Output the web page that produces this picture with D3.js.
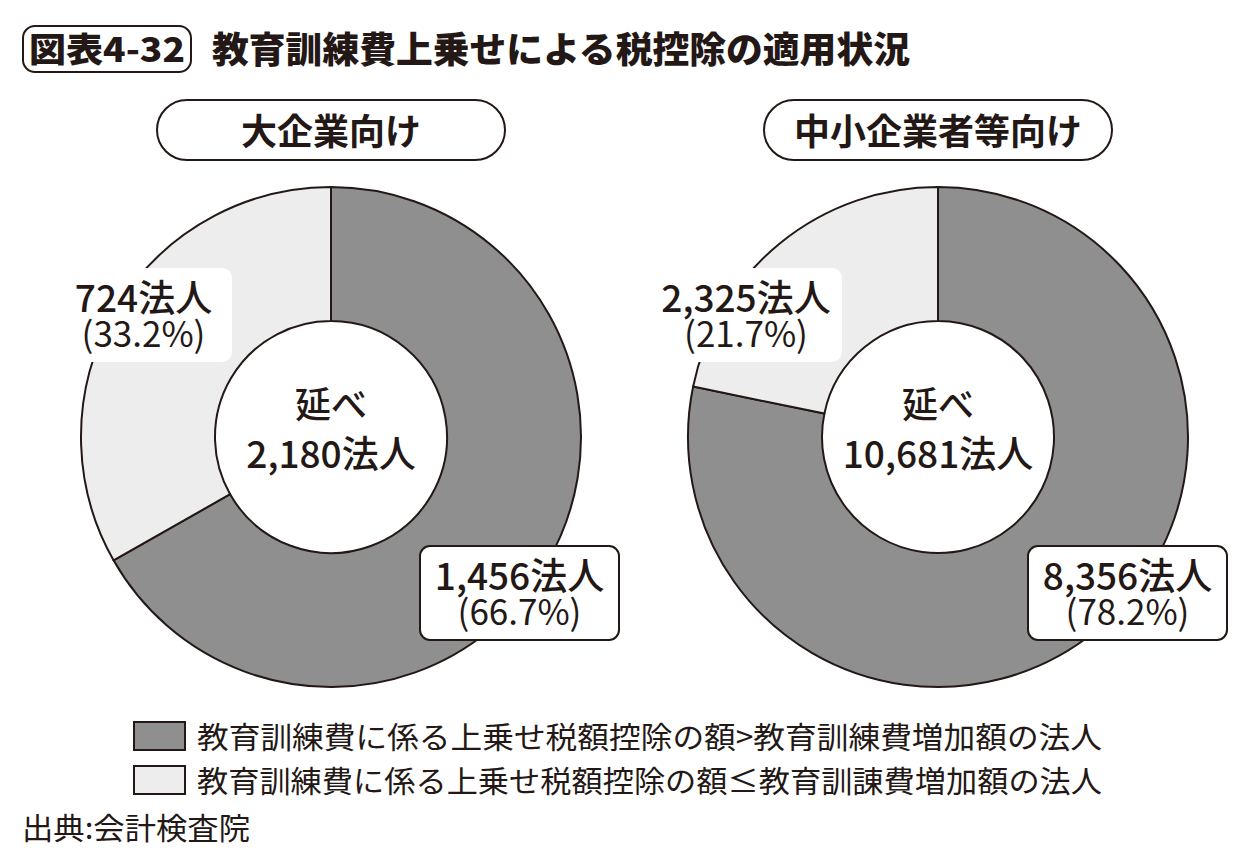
<!DOCTYPE html>
<html><head><meta charset="utf-8">
<script src="https://cdn.jsdelivr.net/npm/d3@7"></script>
<style>
html,body{margin:0;padding:0;background:#fff;}
text{font-family:"Noto Sans CJK JP","Noto Sans",sans-serif;fill:#231815;}
</style></head>
<body>
<svg id="chart" width="1248" height="866"></svg>
<script>
const chartTitleTag = "図表4-32";
const chartTitle = "教育訓練費上乗せによる税控除の適用状況";
const panelTitles = ["大企業向け", "中小企業者等向け"];
const totals = ["2,180", "10,681"];
const seriesNames = [
  "教育訓練費に係る上乗せ税額控除の額>教育訓練費増加額の法人",
  "教育訓練費に係る上乗せ税額控除の額≤教育訓諌費増加額の法人"
];
const countsLarge = [1456, 724];
const countsSmall = [8356, 2325];
const pctLarge = ["66.7%", "33.2%"];
const pctSmall = ["78.2%", "21.7%"];
const source = "出典:会計検査院";
const colors = ["#8f8f8f", "#ededed"];

const svg = d3.select("#chart");
const fmt = d3.format(",");

// Title
svg.append("rect").attr("x",23).attr("y",26).attr("width",168).attr("height",46)
  .attr("rx",12).attr("fill","#fff").attr("stroke","#231815").attr("stroke-width",2);
svg.append("text").attr("x",107).attr("y",62).attr("text-anchor","middle")
  .attr("font-size",34).attr("font-weight","900")
  .attr("textLength",156).attr("lengthAdjust","spacingAndGlyphs").text(chartTitleTag);
svg.append("text").attr("x",212).attr("y",63)
  .attr("font-size",36).attr("font-weight","900")
  .attr("textLength",698).attr("lengthAdjust","spacingAndGlyphs").text(chartTitle);

const panels = [
  {cx:331, counts:countsLarge, pcts:pctLarge, total:totals[0], title:panelTitles[0],
   boxes:[{x:420,y:546,w:199,h:94,border:true},{x:55,y:268,w:177,h:94,border:false}]},
  {cx:938, counts:countsSmall, pcts:pctSmall, total:totals[1], title:panelTitles[1],
   boxes:[{x:1028,y:546,w:199,h:94,border:true},{x:650,y:268,w:192,h:94,border:false}]}
];
const cy = 437, rOuter = 250, rInner = 116;

const pie = d3.pie().sort(null).value(d=>d);
const arc = d3.arc().innerRadius(rInner).outerRadius(rOuter);

panels.forEach(p=>{
  svg.append("rect").attr("x",p.cx-174).attr("y",100).attr("width",348).attr("height",60)
    .attr("rx",30).attr("fill","#fff").attr("stroke","#231815").attr("stroke-width",2);
  svg.append("text").attr("x",p.cx).attr("y",145).attr("text-anchor","middle")
    .attr("font-size",36).attr("font-weight","bold").text(p.title);

  const g = svg.append("g").attr("transform",`translate(${p.cx},${cy})`);
  g.selectAll("path").data(pie(p.counts)).join("path")
    .attr("d",arc).attr("fill",(d,i)=>colors[i])
    .attr("stroke","#231815").attr("stroke-width",2);

  const ct = g.append("text").attr("text-anchor","middle").attr("font-weight","500");
  ct.append("tspan").attr("x",0).attr("y",-19).attr("font-size",36).text("延べ");
  ct.append("tspan").attr("x",0).attr("y",31).attr("font-size",37).text(p.total + "法人");

  p.boxes.forEach((b,i)=>{
    svg.append("rect").attr("x",b.x).attr("y",b.y).attr("width",b.w).attr("height",b.h)
      .attr("rx",10).attr("fill","#fff")
      .attr("stroke",b.border?"#231815":"none").attr("stroke-width",2);
    const tx = b.x + b.w/2;
    const t = svg.append("text").attr("text-anchor","middle");
    t.append("tspan").attr("x",tx).attr("y",b.y+44)
      .attr("font-size",37).attr("font-weight","500").text(fmt(p.counts[i])+"法人");
    t.append("tspan").attr("x",tx).attr("y",b.y+79)
      .attr("font-size",35).attr("font-weight","400").text("(" + p.pcts[i] + ")");
  });
});

// Legend
seriesNames.forEach((s,i)=>{
  const y = 722 + i*44;
  svg.append("rect").attr("x",134).attr("y",y).attr("width",51).attr("height",28)
    .attr("fill",colors[i]).attr("stroke","#231815").attr("stroke-width",2);
  svg.append("text").attr("x",197).attr("y",y+26).attr("font-size",30)
    .attr("textLength",905).attr("lengthAdjust","spacingAndGlyphs").text(s);
});
svg.append("text").attr("x",22).attr("y",839).attr("font-size",30)
  .attr("textLength",228).attr("lengthAdjust","spacingAndGlyphs").text(source);
</script>
</body></html>
